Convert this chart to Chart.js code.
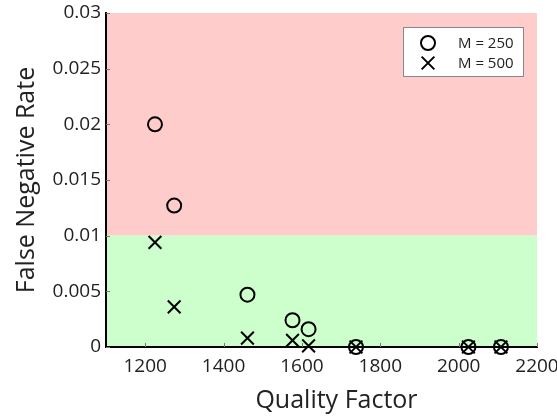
<!DOCTYPE html>
<html lang="en">

<head>
  <meta charset="UTF-8" />
  <title>False Negative Rate vs Quality Factor</title>
  <script src="https://cdn.jsdelivr.net/npm/chart.js"></script>
  <style>
    html, body { margin: 0; padding: 0; background: #fff; }
    .c-panel_graph { width: 557px; height: 416px; position: relative; }
  </style>
</head>

<body>
  <div class="c-panel_graph">
    <canvas id="myChart_fnr"></canvas>
  </div>

  <script>
    // values
    const qualityFactor = [1225, 1274, 1461, 1576, 1617, 1738, 2025, 2108];
    const fnrM250 = [0.0200, 0.0127, 0.0047, 0.0024, 0.0016, 0, 0, 0];
    const fnrM500 = [0.0094, 0.0036, 0.0008, 0.0006, 0.0001, 0, 0, 0];
    const seriesLabels = ['M = 250', 'M = 500'];
    const xTicks = [1200, 1400, 1600, 1800, 2000, 2200];
    const yTicks = [0, 0.005, 0.01, 0.015, 0.02, 0.025, 0.03];
    const xTitle = 'Quality Factor';
    const yTitle = 'False Negative Rate';
    const threshold = 0.01;

    const FONT = '"Open Sans", "DejaVu Sans", sans-serif';
    const TEXT = '#222';

    function toPoints(xs, ys) {
      return xs.map((x, i) => ({ x: x, y: ys[i] }));
    }

    // pink/green bands, inward tick marks, x title and the boxed legend
    const decorations = {
      id: 'decorations',
      beforeDraw(chart) {
        const { ctx, chartArea: a, scales: { y } } = chart;
        const yt = y.getPixelForValue(threshold);
        ctx.save();
        ctx.fillStyle = '#ffcccc';
        ctx.fillRect(a.left, a.top, a.right - a.left, yt - a.top);
        ctx.fillStyle = '#ccffcc';
        ctx.fillRect(a.left, yt, a.right - a.left, a.bottom - yt);
        ctx.restore();
      },
      beforeDatasetsDraw(chart) {
        const { ctx, chartArea: a, scales: { x, y } } = chart;
        ctx.save();
        ctx.strokeStyle = '#777';
        ctx.lineWidth = 1;
        ctx.beginPath();
        xTicks.forEach(v => {
          const px = Math.round(x.getPixelForValue(v)) + 0.5;
          ctx.moveTo(px, a.bottom);
          ctx.lineTo(px, a.bottom - 4);
        });
        yTicks.forEach(v => {
          const py = Math.round(y.getPixelForValue(v)) + 0.5;
          ctx.moveTo(a.left, py);
          ctx.lineTo(a.left + 4, py);
        });
        ctx.stroke();
        ctx.restore();
      },
      afterDraw(chart) {
        const { ctx, chartArea: a } = chart;

        // x axis title (sits a little right of the plot centre in the original)
        ctx.save();
        ctx.font = '25px ' + FONT;
        ctx.fillStyle = TEXT;
        ctx.textAlign = 'center';
        ctx.textBaseline = 'alphabetic';
        ctx.fillText(xTitle, (a.left + a.right) / 2 + 15, a.bottom + 61);
        ctx.restore();

        // legend
        const w = 121, h = 50;
        const bx = a.right - 13 - w, by = a.top + 14;
        ctx.save();
        ctx.fillStyle = '#fff';
        ctx.fillRect(bx, by, w, h);
        ctx.strokeStyle = '#888';
        ctx.lineWidth = 1;
        ctx.strokeRect(bx + 0.5, by + 0.5, w - 1, h - 1);
        chart.data.datasets.forEach((ds, i) => {
          const cy = by + 16 + i * 20;
          ctx.fillStyle = 'rgba(0,0,0,0)';
          ctx.strokeStyle = '#000';
          ctx.lineWidth = 2;
          Chart.helpers.drawPoint(ctx, {
            pointStyle: ds.pointStyle,
            radius: ds.pointRadius,
            borderWidth: 2
          }, bx + 25, cy);
          ctx.font = '15px ' + FONT;
          ctx.fillStyle = TEXT;
          ctx.textAlign = 'left';
          ctx.textBaseline = 'middle';
          ctx.fillText(ds.label, bx + 55, cy + 1);
        });
        ctx.restore();
      }
    };

    const myChart_fnr = document.getElementById('myChart_fnr');

    new Chart(myChart_fnr, {
      type: 'scatter',
      data: {
        datasets: [{
          label: seriesLabels[0],
          data: toPoints(qualityFactor, fnrM250),
          pointStyle: 'circle',
          pointRadius: 7,
          pointHoverRadius: 7,
          borderColor: '#000',
          backgroundColor: 'rgba(0,0,0,0)',
          borderWidth: 2,
          clip: false
        }, {
          label: seriesLabels[1],
          data: toPoints(qualityFactor, fnrM500),
          pointStyle: 'crossRot',
          pointRadius: 9,
          pointHoverRadius: 9,
          borderColor: '#000',
          backgroundColor: 'rgba(0,0,0,0)',
          borderWidth: 2,
          clip: false
        }]
      },
      options: {
        responsive: true,
        maintainAspectRatio: false,
        animation: false,
        layout: {
          padding: { top: 13, right: 20, bottom: 0, left: 12 }
        },
        plugins: {
          legend: { display: false },
          tooltip: { enabled: false }
        },
        scales: {
          x: {
            type: 'linear',
            min: 1100,
            max: 2200,
            afterBuildTicks: scale => { scale.ticks = xTicks.map(v => ({ value: v })); },
            afterFit: scale => {
              scale.height = 69;
              scale.paddingLeft = 0;
              scale.paddingRight = 0;
            },
            grid: { display: false, drawTicks: false },
            border: { display: true, color: '#000', width: 2 },
            ticks: {
              color: TEXT,
              padding: 8,
              maxRotation: 0,
              font: { family: FONT, size: 19 },
              callback: v => String(v)
            }
          },
          y: {
            type: 'linear',
            min: 0,
            max: 0.03,
            afterBuildTicks: scale => { scale.ticks = yTicks.map(v => ({ value: v })); },
            afterFit: scale => {
              scale.width = 94;
              scale.paddingTop = 0;
              scale.paddingBottom = 0;
            },
            grid: { display: false, drawTicks: false },
            border: { display: true, color: '#000', width: 2 },
            ticks: {
              color: TEXT,
              padding: 5,
              font: { family: FONT, size: 19 },
              callback: v => String(v)
            },
            title: {
              display: true,
              text: yTitle,
              color: TEXT,
              padding: { top: 0, bottom: 0 },
              font: { family: FONT, size: 25 }
            }
          }
        }
      },
      plugins: [decorations]
    });
  </script>

</body>

</html>
